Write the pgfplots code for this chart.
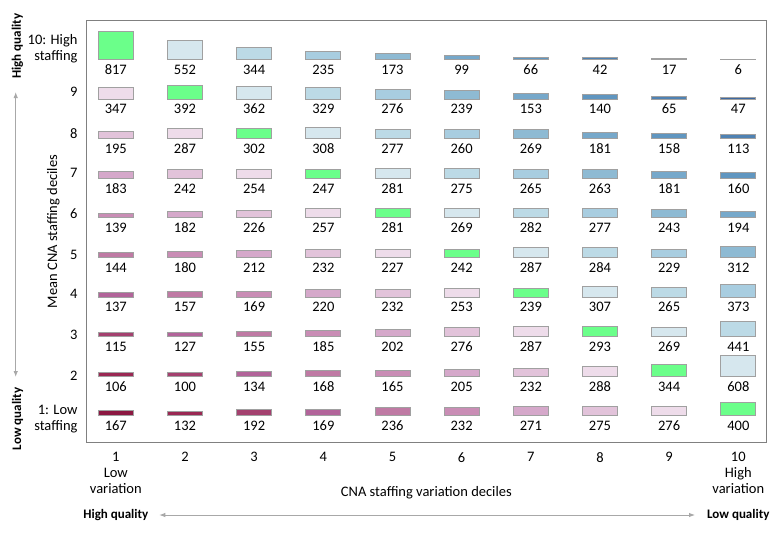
\documentclass[border=0pt]{standalone}
\usepackage{fontspec}
\setmainfont{Carlito}
\usepackage{pgfplots}
\pgfplotsset{compat=1.18}
\usepackage{pgfplotstable}
\usetikzlibrary{arrows.meta}

% colour index k: 0..8 pink (dark to light), 9 green, 10..18 blue (light to dark)
\definecolor{cc0}{HTML}{8C1842}
\definecolor{cc1}{HTML}{9A2853}
\definecolor{cc2}{HTML}{A4416F}
\definecolor{cc3}{HTML}{B2649A}
\definecolor{cc4}{HTML}{BF7AA4}
\definecolor{cc5}{HTML}{C98DB5}
\definecolor{cc6}{HTML}{D5A8CA}
\definecolor{cc7}{HTML}{E2C3DA}
\definecolor{cc8}{HTML}{EEDCEA}
\definecolor{cc9}{HTML}{6BFF8A}
\definecolor{cc10}{HTML}{D6E7EE}
\definecolor{cc11}{HTML}{BCDAE6}
\definecolor{cc12}{HTML}{A8CDE0}
\definecolor{cc13}{HTML}{8EBAD3}
\definecolor{cc14}{HTML}{76A8CA}
\definecolor{cc15}{HTML}{6096C0}
\definecolor{cc16}{HTML}{4F82B3}
\definecolor{cc17}{HTML}{3D69A2}
\definecolor{cc18}{HTML}{2F5792}
\definecolor{cellgray}{HTML}{A0A0A0}
\definecolor{framegray}{HTML}{808080}
\definecolor{arrowgray}{HTML}{A8A8A8}

% c = variation decile, r = staffing decile, n = count, k = colour index
\pgfplotstableread{
c r n k
1 10 817 9
2 10 552 10
3 10 344 11
4 10 235 12
5 10 173 13
6 10 99 14
7 10 66 15
8 10 42 16
9 10 17 17
10 10 6 18
1 9 347 8
2 9 392 9
3 9 362 10
4 9 329 11
5 9 276 12
6 9 239 13
7 9 153 14
8 9 140 15
9 9 65 16
10 9 47 17
1 8 195 7
2 8 287 8
3 8 302 9
4 8 308 10
5 8 277 11
6 8 260 12
7 8 269 13
8 8 181 14
9 8 158 15
10 8 113 16
1 7 183 6
2 7 242 7
3 7 254 8
4 7 247 9
5 7 281 10
6 7 275 11
7 7 265 12
8 7 263 13
9 7 181 14
10 7 160 15
1 6 139 5
2 6 182 6
3 6 226 7
4 6 257 8
5 6 281 9
6 6 269 10
7 6 282 11
8 6 277 12
9 6 243 13
10 6 194 14
1 5 144 4
2 5 180 5
3 5 212 6
4 5 232 7
5 5 227 8
6 5 242 9
7 5 287 10
8 5 284 11
9 5 229 12
10 5 312 13
1 4 137 3
2 4 157 4
3 4 169 5
4 4 220 6
5 4 232 7
6 4 253 8
7 4 239 9
8 4 307 10
9 4 265 11
10 4 373 12
1 3 115 2
2 3 127 3
3 3 155 4
4 3 185 5
5 3 202 6
6 3 276 7
7 3 287 8
8 3 293 9
9 3 269 10
10 3 441 11
1 2 106 1
2 2 100 2
3 2 134 3
4 2 168 4
5 2 165 5
6 2 205 6
7 2 232 7
8 2 288 8
9 2 344 9
10 2 608 10
1 1 167 0
2 1 132 1
3 1 192 2
4 1 169 3
5 1 236 4
6 1 232 5
7 1 271 6
8 1 275 7
9 1 276 8
10 1 400 9
}\cells

\pgfdeclareplotmark{cell}{%
  \pgfmathtruncatemacro\kk{\kidx}%
  \pgfsetfillcolor{cc\kk}%
  \pgfsetstrokecolor{cellgray}%
  \pgfsetlinewidth{0.8pt}%
  \pgfpathrectangle{\pgfpoint{-17.5pt}{0pt}}{\pgfpoint{35pt}{\cellh pt}}%
  \pgfusepathqfillstroke}

\begin{document}
\fontsize{14.5}{16}\selectfont
\begin{tikzpicture}
\useasboundingbox (0,0) rectangle (780pt,-533pt);
\begin{axis}[
  at={(86.7pt,-442.3pt)}, anchor=south west,
  scale only axis, width=679.3pt, height=421.6pt,
  xmin=0.579, xmax=10.40, ymin=0.328, ymax=10.975,
  clip=false,
  axis line style={draw=framegray, line width=1pt},
  tick style={draw=none},
  xtick={1,2,3,4,5,6,7,8,9,10},
  xticklabels={{1\\Low\\variation},2,3,4,5,6,7,8,9,{10\\High\\variation}},
  xticklabel style={align=center, anchor=north, inner sep=0pt, yshift=-10pt},
  ytick={0.904,2.010,3.038,4.066,5.058,6.093,7.121,8.131,9.174,10.26},
  yticklabels={{1: Low\\staffing},2,3,4,5,6,7,8,9,{10: High\\staffing}},
  yticklabel style={align=right, anchor=east, inner sep=0pt, xshift=-9pt},
  xlabel={CNA staffing variation deciles},
  xlabel style={at={(axis description cs:0.5,-0.1186)}, anchor=center, inner sep=0pt},
  ylabel={Mean CNA staffing deciles},
  ylabel style={at={(axis description cs:-0.0492,0.5)}, anchor=center, inner sep=0pt},
]
\addplot[
  scatter, only marks, mark=cell,
  point meta=explicit,
  visualization depends on={\thisrow{n}/29 \as \cellh},
  visualization depends on={\thisrow{n} \as \nval},
  visualization depends on={\thisrow{k} \as \kidx},
  nodes near coords={\pgfmathprintnumber[fixed, precision=0, assume math mode=true]{\nval}},
  every node near coord/.append style={anchor=base, yshift=-15pt, text=black, inner sep=0pt},
] table[x=c, y=r, meta=k] {\cells};
\end{axis}
% quality annotations
\begin{scope}[font=\fontsize{13}{15.5}\selectfont\bfseries]
\draw[arrowgray, line width=0.9pt, {Latex[length=6pt,width=4.5pt]}-{Latex[length=6pt,width=4.5pt]}]
  (15.7pt,-92pt) -- (15.7pt,-377pt);
\node[rotate=90] at (17.5pt,-46.3pt) {High quality};
\node[rotate=90] at (17.5pt,-419pt) {Low quality};
\draw[arrowgray, line width=0.9pt, {Latex[length=6pt,width=4.5pt]}-{Latex[length=6pt,width=4.5pt]}]
  (159.3pt,-515pt) -- (695pt,-515pt);
\node at (115.8pt,-515pt) {High quality};
\node at (738.3pt,-515pt) {Low quality};
\end{scope}
\end{tikzpicture}
\end{document}
